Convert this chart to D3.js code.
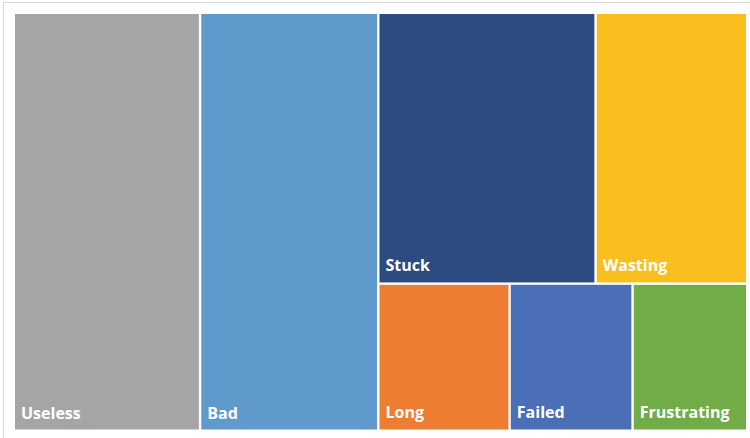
<!DOCTYPE html>
<html>
<head>
<meta charset="utf-8">
<script src="https://cdn.jsdelivr.net/npm/d3@7"></script>
<style>
  body { margin: 0; background: #fff; }
  svg { display: block; }
</style>
</head>
<body>
<div id="chart"></div>
<script>
// treemap of complaint words
const categories = ['Useless', 'Bad', 'Stuck', 'Wasting', 'Long', 'Failed', 'Frustrating'];
const values = [254, 243, 192, 134, 63, 59, 55];
const colors = ['#a5a5a5', '#6099cc', '#2e4b80', '#f9bf1f', '#ed7d31', '#4a6fb6', '#70ad47'];
// how many cells go in each strip (Excel style layout)
const stripSizes = [1, 1, 2, 3];

const width = 750, height = 438;
const plot = { x: 15, y: 14, w: 731, h: 415.5 };

const svg = d3.select('#chart')
    .append('svg')
    .attr('width', width)
    .attr('height', height);

// chart area border (runs off the right and bottom)
svg.append('rect')
    .attr('x', 3.5).attr('y', 2.5)
    .attr('width', 800).attr('height', 500)
    .attr('fill', '#fff')
    .attr('stroke', '#d9d9d9')
    .attr('stroke-width', 1);

// strips laid along the shorter side; the last strip fills what is left,
// its cells placed along the longer side
function stripTile(parent, x0, y0, x1, y1) {
    const nodes = parent.children;
    let i = 0, value = parent.value;
    stripSizes.forEach((n, k) => {
        const row = { children: nodes.slice(i, i + n) };
        row.value = d3.sum(row.children, d => d.value);
        const dx = x1 - x0, dy = y1 - y0;
        if (k === stripSizes.length - 1) {
            if (dx >= dy) d3.treemapDice(row, x0, y0, x1, y1);
            else d3.treemapSlice(row, x0, y0, x1, y1);
        } else if (dx < dy) {
            d3.treemapDice(row, x0, y0, x1, y0 += dy * row.value / value);
        } else {
            d3.treemapSlice(row, x0, y0, x0 += dx * row.value / value, y1);
        }
        value -= row.value;
        i += n;
    });
}

const root = d3.hierarchy({
    children: categories.map((c, i) => ({ name: c, value: values[i], color: colors[i] }))
}).sum(d => d.value || 0);

d3.treemap()
    .tile(stripTile)
    .size([plot.w, plot.h])
    .paddingInner(2.4)(root);

const g = svg.append('g')
    .attr('transform', `translate(${plot.x},${plot.y})`);

const cell = g.selectAll('g.cell')
    .data(root.leaves())
    .enter().append('g')
    .attr('class', 'cell')
    .attr('transform', d => `translate(${d.x0},${d.y0})`);

cell.append('rect')
    .attr('width', d => d.x1 - d.x0)
    .attr('height', d => d.y1 - d.y0)
    .attr('fill', d => d.data.color);

cell.append('text')
    .attr('x', 6)
    .attr('y', d => d.y1 - d.y0 - 11)
    .text(d => d.data.name)
    .style('font-family', '"Open Sans", sans-serif')
    .style('font-weight', 'bold')
    .style('font-size', '16px')
    .style('fill', '#fff');
</script>
</body>
</html>
